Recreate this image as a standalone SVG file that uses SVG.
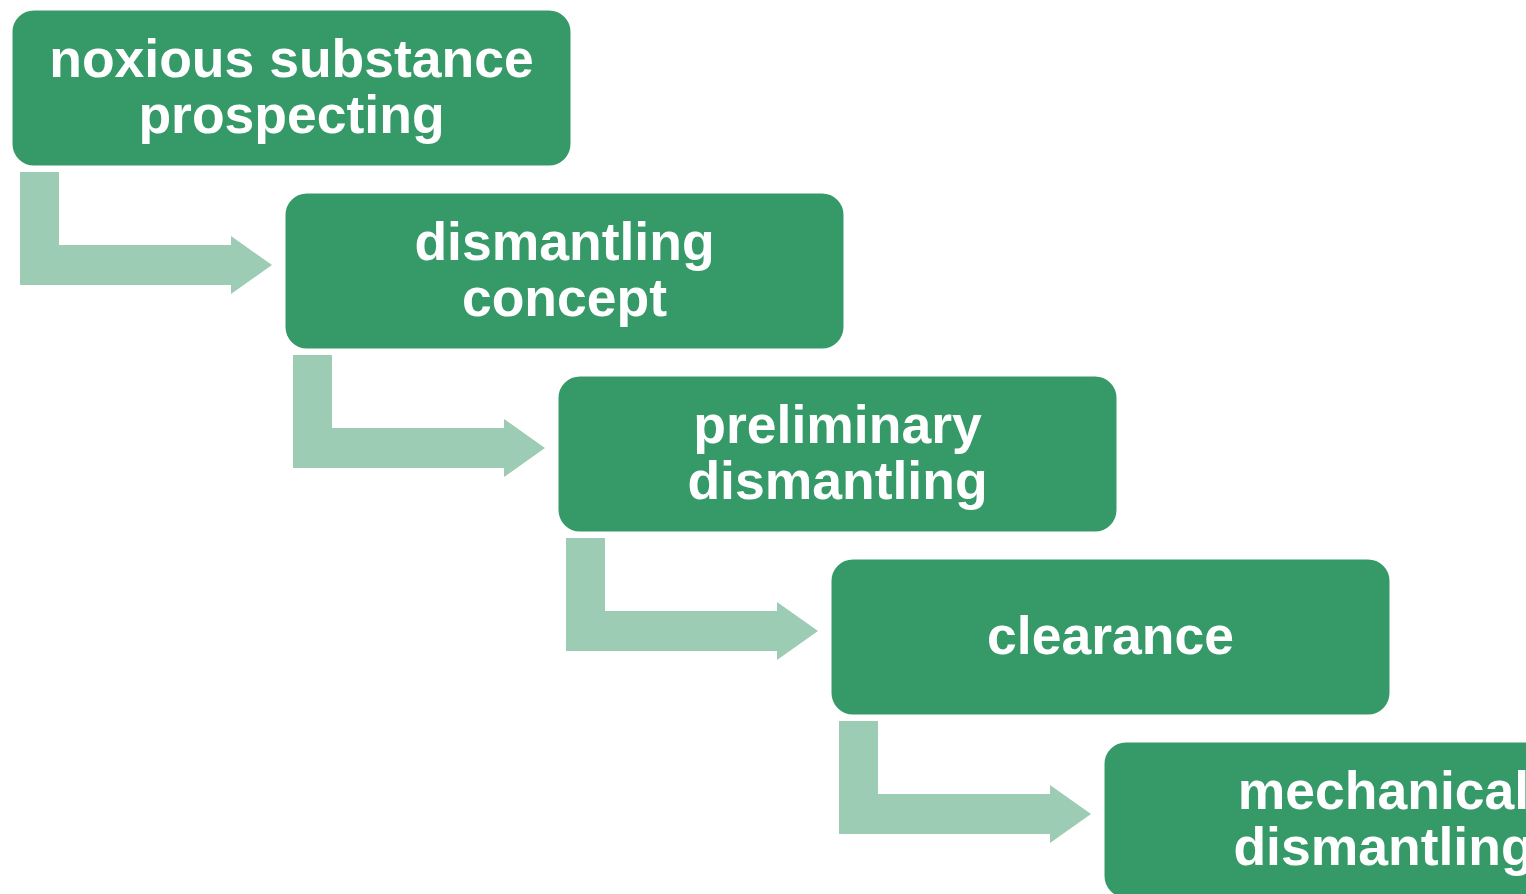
<svg xmlns="http://www.w3.org/2000/svg" width="1526" height="894" viewBox="0 0 1526 894">
<style>
.box{fill:#359A68;stroke:#ffffff;stroke-width:3}
.arr{fill:#9CCCB4}
.t{font-family:"Liberation Sans",Arial,sans-serif;font-weight:bold;font-size:53.5px;fill:#ffffff;text-anchor:middle}
</style>
<defs>
<path id="bent" d="M0,0 H39 V73 H211 V64 L252,93 L211,122 V113 H0 Z"/>
</defs>
<g id="connectors">
<use href="#bent" class="arr" x="20" y="172"/>
<use href="#bent" class="arr" x="293" y="355"/>
<use href="#bent" class="arr" x="566" y="538"/>
<use href="#bent" class="arr" x="839" y="721"/>
</g>
<g id="n1"><rect class="box" x="11" y="9" width="561" height="158" rx="23"/>
<text class="t" x="291.5" y="77">noxious substance</text><text class="t" x="291.5" y="133">prospecting</text></g>
<g id="n2"><rect class="box" x="284" y="192" width="561" height="158" rx="23"/>
<text class="t" x="564.5" y="260">dismantling</text><text class="t" x="564.5" y="316">concept</text></g>
<g id="n3"><rect class="box" x="557" y="375" width="561" height="158" rx="23"/>
<text class="t" x="837.5" y="443">preliminary</text><text class="t" x="837.5" y="499">dismantling</text></g>
<g id="n4"><rect class="box" x="830" y="558" width="561" height="158" rx="23"/>
<text class="t" x="1110.5" y="654">clearance</text></g>
<g id="n5"><rect class="box" x="1103" y="741" width="561" height="158" rx="23"/>
<text class="t" x="1383.5" y="809">mechanical</text><text class="t" x="1383.5" y="865">dismantling</text></g>
</svg>
